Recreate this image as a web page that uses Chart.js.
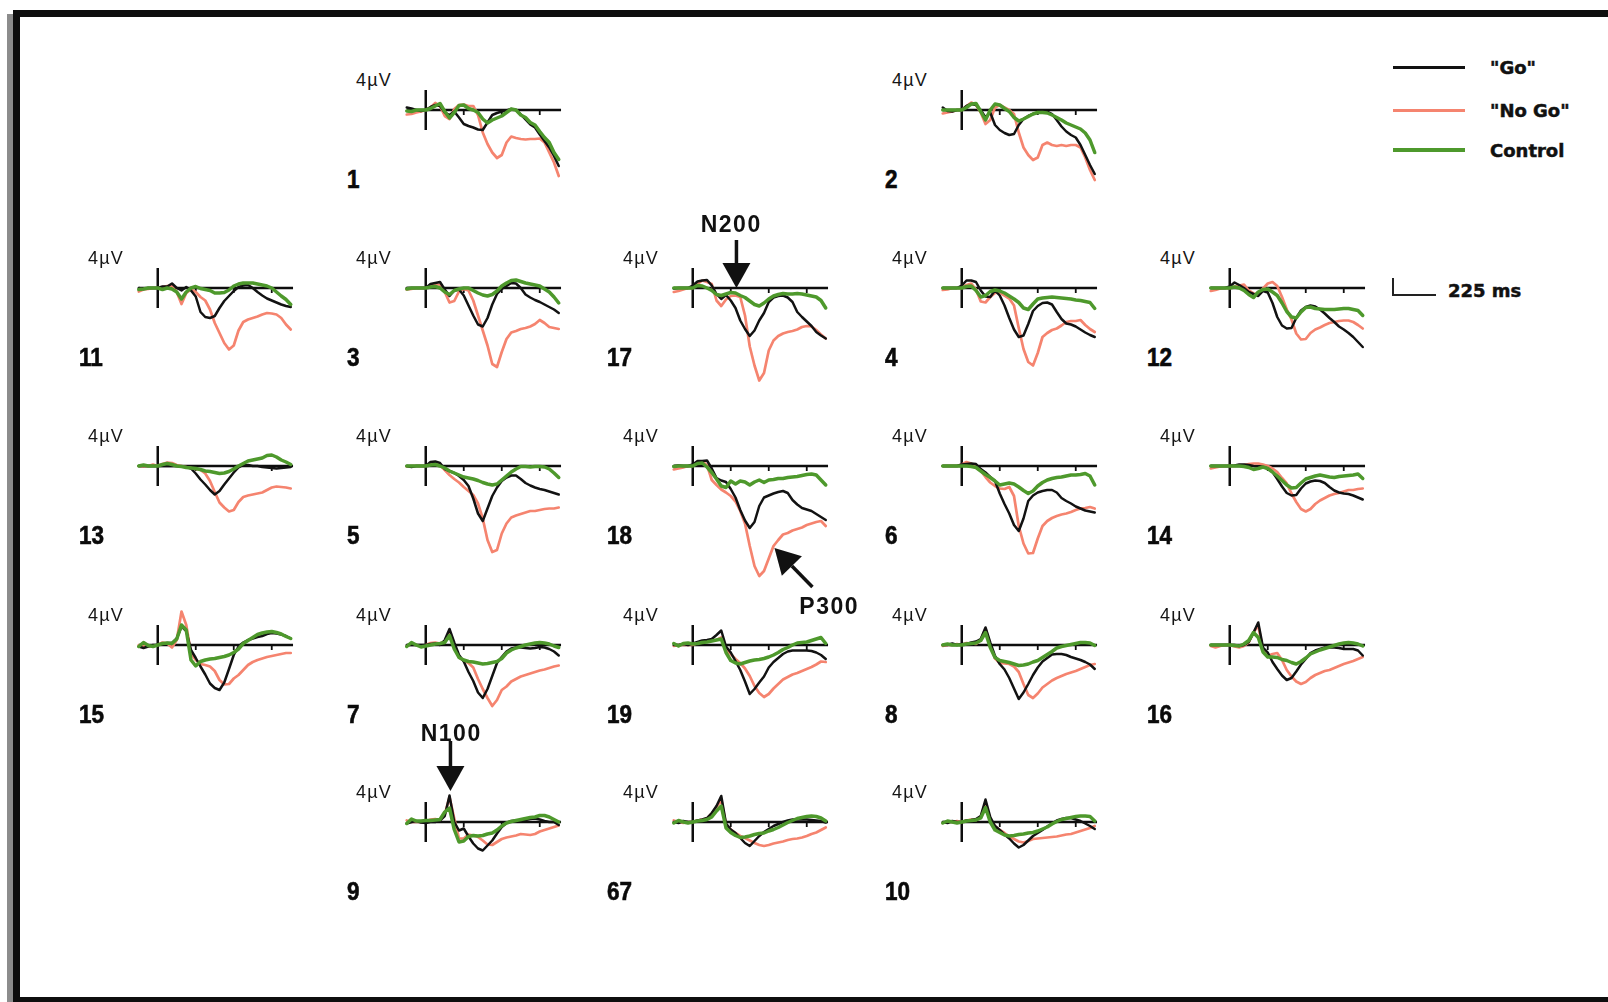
<!DOCTYPE html>
<html>
<head>
<meta charset="utf-8">
<title>ERP waveforms – Go / No Go / Control</title>
<script src="https://cdn.jsdelivr.net/npm/chart.js@4.4.1/dist/chart.umd.min.js"></script>
<style>
  html, body { margin: 0; padding: 0; background: #fff; }
  #page { position: relative; width: 1608px; height: 1002px; overflow: hidden; background: #fff; }
  .frame { position: absolute; background: #0e0e0e; }
  .frame-shade { position: absolute; left: 7px; top: 14px; width: 6px; bottom: 0; background: #8c8c8c; }
  canvas.erp { position: absolute; }
  .uv { position: absolute; font: 18px "Liberation Sans", Arial, sans-serif; letter-spacing: 1.2px;
        line-height: 18px; color: #151515; white-space: nowrap; transform: translate(-100%, -50%); }
  .num { position: absolute; font: bold 25px "Liberation Sans", Arial, sans-serif; line-height: 25px;
         color: #0a0a0a; white-space: nowrap; transform: translateY(-50%) scaleX(0.9); transform-origin: left center;
         -webkit-text-stroke: 0.6px #0a0a0a; }
  .comp { position: absolute; font: bold 23px "Liberation Sans", Arial, sans-serif; letter-spacing: 1.5px;
          line-height: 23px; color: #111; white-space: nowrap; transform: translate(-50%, -50%); }
  .leg-line { position: absolute; }
  .leg-text { position: absolute; font: bold 18px "DejaVu Sans", sans-serif; line-height: 18px;
              color: #111; white-space: nowrap; transform: translateY(-50%); -webkit-text-stroke: 0.5px #111; }
  .scalebar { position: absolute; border-left: 2px solid #222; border-bottom: 2px solid #222; box-sizing: border-box; }
</style>
</head>
<body>
<div id="page">
  <div class="frame-shade"></div>
  <div class="frame" style="left:13px; top:10px; width:7px; bottom:0;"></div>
  <div class="frame" style="left:13px; top:10px; right:0; height:7px;"></div>
  <div class="frame" style="left:13px; bottom:0; right:0; height:5px;"></div>
</div>
<script>
// ---- time base (ms after stimulus) ----
const timeMs = [-100,-75,-50,-25,0,25,50,75,100,125,150,175,200,225,250,275,300,325,350,375,400,425,450,475,500,525,550,575,600,625,650,675,700];
const seriesNames = ['"Go"', '"No Go"', 'Control'];
const axisTicksMs = [200, 400, 600];
const axisSpanMs = [-100, 712];
const calibrationUv = 4;
const calibrationMs = 225;

// ---- grand-average amplitudes (µV, positive plotted downward) ----
const go1   = [-0.5,-0.3,0,0.2,0,-0.6,-1.0,-0.8,0.5,1.0,0.3,1.5,2.8,3.2,3.5,3.9,4.0,2.5,1.0,0.6,0.3,0.1,-0.2,0,0.9,1.9,2.9,3.5,4.9,6.2,7.5,9.2,11.2];
const nogo1 = [0.9,0.8,0.5,0.3,0,-0.5,-1.4,-0.8,1.2,1.8,-0.2,-1.0,-1.1,-0.8,-0.8,1.0,4.5,6.8,8.5,9.6,9.0,6.5,5.3,5.6,5.8,5.9,5.8,5.8,5.7,6.5,8.5,10.5,13.2];
const ctl1  = [0.2,0.3,0,0,0,-0.3,-0.8,-1.3,0.3,1.6,0.5,-0.9,-1.0,-0.3,0,0.5,1.8,2.6,2.0,1.6,1.2,0.5,-0.2,0,1.0,1.5,2.5,3.0,4.3,5.5,6.5,8.5,9.9];

const go2   = [-0.5,0.2,0.3,0,0,-0.8,-1.2,-1.0,0,1.5,0.5,3.0,4.0,4.6,5.0,4.8,3.0,1.8,1.2,0.8,0.5,0.2,0.3,0.8,2.0,3.3,4.3,5.0,5.5,7.0,9.0,11.0,12.8];
const nogo2 = [0.7,0.5,0.3,0,0,-0.8,-1.5,-1.0,0.5,2.8,2.0,-0.5,-1.0,-0.5,0,0.8,4.5,7.5,9.0,10.0,9.5,7.0,6.5,7.0,7.2,7.0,7.2,7.0,7.0,7.5,9.5,12.0,14.0];
const ctl2  = [0,0,0,0,0,-0.5,-1.2,-1.3,0.3,2.0,0,-1.2,-1.0,-0.3,0.3,1.5,2.2,1.8,1.3,0.8,0.5,0.5,0.6,1.0,1.5,2.0,2.6,3.0,3.4,3.8,4.6,6.0,8.5];

const go11   = [0,0.2,0,0,0,-0.3,-0.3,-0.9,0,0.5,-0.2,0.5,1.7,4.8,5.8,6.0,5.6,4.0,2.6,1.6,0.6,-0.2,-0.5,-0.6,0,0.8,1.5,2.1,2.5,2.9,3.3,3.6,3.8];
const nogo11 = [0.7,0.3,0.2,0,0,-0.2,-0.4,-0.5,0.8,3.2,1.0,0.3,0.8,1.8,2.5,4.3,7.0,9.0,11.0,12.3,11.5,8.5,6.8,6.3,6.0,5.7,5.3,5.0,5.1,5.3,6.0,7.3,8.3];
const ctl11  = [0.3,0.2,0,0,0,0.3,0,0.2,0.8,2.2,0.8,0,-0.3,0.1,0.3,0.5,1.0,1.0,0.9,0.4,-0.4,-0.8,-1.0,-1.0,-1.0,-0.8,-0.6,-0.4,0,0.8,1.6,2.3,3.3];

const go3   = [0,0,0,0,0,-0.8,-1.0,-1.2,0.3,1.6,0.5,0.3,1.5,3.5,5.5,7.3,7.7,6.0,3.3,1.2,0.2,-0.4,-1.0,-0.9,0,1.3,1.9,2.4,2.8,3.3,3.8,4.3,5.0];
const nogo3 = [0.3,0.2,0,0,0,-0.5,-0.7,-0.7,0.8,2.9,2.6,0.7,0.2,0.5,2.5,5.5,8.5,11.5,15.2,15.8,12.8,10.2,8.9,8.6,8.2,8.0,7.7,7.2,6.4,7.0,7.8,8.0,8.2];
const ctl3  = [0.2,0,0,0,0,-0.2,-0.3,0,0.8,1.3,0.5,0.2,0,0,0.5,1.0,1.4,1.6,1.3,0.6,-0.4,-1.0,-1.5,-1.6,-1.3,-1.0,-0.8,-0.6,-0.4,0.2,0.8,1.8,3.0];

const go17   = [0.1,0,0,0,-0.5,-1.3,-1.5,-1.6,-0.5,1.2,2.2,1.4,2.5,4.0,6.5,8.2,9.6,8.5,6.5,5.0,2.8,1.9,1.6,1.5,1.9,2.8,4.8,5.8,6.7,7.6,8.8,9.5,10.1];
const nogo17 = [0.8,0.6,0.3,0,0,-0.8,-1.5,-1.2,-0.8,2.5,3.6,2.3,1.6,1.5,1.8,5.5,11.7,15.5,18.5,17.0,12.5,10.5,9.6,9.1,8.8,8.6,8.3,7.8,7.6,7.7,8.4,9.3,10.1];
const ctl17  = [0,0,0,0,0,-0.5,-0.4,0,0.5,1.3,1.5,1.2,0.9,1.0,1.5,1.9,2.6,3.3,3.6,3.0,2.2,1.6,1.3,1.1,1.2,1.2,1.1,1.2,1.4,1.6,1.8,2.5,4.0];

const go4   = [0,0,0,0,-0.5,-1.5,-1.5,-1.2,0.5,1.7,1.8,0.5,1.5,3.5,6.0,8.3,9.8,9.5,7.2,4.6,3.6,3.0,2.9,3.3,4.8,6.2,7.1,7.3,7.7,8.3,8.9,9.4,9.8];
const nogo4 = [0.4,0.3,0,0,0,-0.6,-0.9,0.3,2.7,2.9,1.8,1.0,0.9,1.5,2.1,3.5,8.0,12.2,14.8,15.5,13.0,9.8,9.0,8.4,8.1,7.5,6.8,6.6,6.6,6.4,7.4,8.2,8.8];
const ctl4  = [0,0,0,0,0,-0.3,-0.4,0.5,1.8,1.5,0.7,0.4,0.6,1.0,1.6,2.2,2.9,4.0,4.3,3.2,2.2,2.0,1.9,1.8,1.9,2.0,2.1,2.2,2.4,2.5,2.7,2.9,4.1];

const go12   = [0,0,0,0,-0.3,-1.1,-0.6,0,0.8,1.2,1.6,0.6,0.9,3.0,5.8,7.5,8.1,8.0,6.0,4.5,3.8,3.5,3.7,4.3,5.1,6.0,6.8,7.7,8.3,9.0,9.8,10.8,11.8];
const nogo12 = [0.6,0.4,0.1,0,0,-0.3,-0.5,-0.7,0.5,1.1,1.3,0.1,-0.9,-1.2,-0.4,1.8,4.3,6.3,9.1,10.3,10.2,9.0,8.3,7.9,7.4,7.0,6.8,6.6,6.5,6.5,6.8,7.4,8.1];
const ctl12  = [0,0,0,0,0,-0.2,0,0.5,1.3,1.9,0.8,0.3,0.2,0.8,1.5,3.0,4.7,5.8,6.0,4.8,3.9,3.8,4.1,4.2,4.3,4.3,4.3,4.2,4.1,4.1,4.3,4.5,5.5];

const go13   = [0,0,0,0,0,0,0,0,0,0.1,0.2,0.5,1.5,2.7,3.7,4.8,5.7,5.0,3.7,2.5,1.3,0.3,-0.2,-0.2,0,0,0.2,0.3,0.4,0.5,0.4,0.3,0.2];
const nogo13 = [0,0.1,0,-0.3,0,-0.4,-0.7,-0.6,-0.2,0,0.2,0.4,0.6,0.8,1.5,3.0,5.2,7.3,8.3,9.1,8.8,7.2,6.2,5.9,5.7,5.5,5.3,4.8,4.3,4.1,4.2,4.3,4.5];
const ctl13  = [0,-0.2,0,0,0,-0.3,-0.5,-0.3,0,0.1,0.3,0.4,0.5,0.7,1.0,1.1,1.3,1.5,1.4,1.1,0.6,0,-0.5,-1.0,-1.2,-1.4,-1.6,-2.1,-2.2,-1.8,-1.2,-0.8,-0.3];

const go5   = [0,0.2,0,0,0,-0.8,-0.9,-0.6,0.6,1.0,1.4,2.0,2.8,4.0,6.5,9.5,11.0,8.5,6.0,4.3,3.0,2.3,1.9,1.9,2.6,3.4,3.9,4.3,4.6,4.8,5.1,5.4,5.7];
const nogo5 = [0.1,0,0,0,0,-0.4,-0.5,-0.2,0.8,1.8,2.6,3.3,4.2,5.0,5.8,7.5,10.5,14.8,17.2,16.8,13.5,11.5,10.3,9.9,9.6,9.3,9.0,9.0,8.8,8.6,8.5,8.5,8.3];
const ctl5  = [0,0,0,0,0,-0.2,-0.3,0,0.4,1.0,1.4,1.8,2.2,2.4,2.6,2.9,3.3,3.6,3.8,3.6,2.8,2.0,1.2,0.6,0.1,0.1,0.2,0.1,0.1,0.2,0.6,1.4,2.3];

const go18   = [0,-0.1,0,0,-0.3,-1.0,-1.0,-1.1,0.5,2.4,2.9,3.2,4.6,6.3,8.8,10.9,12.4,11.2,8.0,6.3,5.9,5.5,5.2,5.0,5.4,6.8,7.7,8.4,8.7,9.0,9.6,10.2,10.8];
const nogo18 = [0.7,0.5,0.3,0,0,-0.8,-0.9,-0.2,2.8,3.8,4.7,5.3,6.0,7.1,9.0,11.5,16.0,20.0,22.0,21.0,18.5,16.0,14.8,13.7,13.4,12.9,12.6,12.3,11.8,11.5,11.2,11.0,12.0];
const ctl18  = [0.1,0,0,0,0,-0.5,-0.6,0.2,1.3,2.6,4.0,4.3,3.0,3.6,3.0,3.2,3.8,3.2,2.8,3.3,2.8,2.7,2.5,2.5,2.3,2.2,2.1,1.9,1.7,1.6,1.8,2.8,3.8];

const go6   = [0,0,0,0,-0.3,-0.4,-0.5,-0.4,0.6,1.3,2.2,3.0,5.5,7.6,9.5,11.8,13.0,10.5,7.0,5.9,5.3,5.0,4.8,4.8,5.3,6.4,7.0,7.5,8.1,8.5,8.9,9.1,9.3];
const nogo6 = [0,0,0,0,-0.3,-0.8,-0.5,0.3,1.0,2.2,3.3,4.0,4.5,4.6,4.2,6.0,12.0,15.5,17.5,17.4,14.5,12.0,11.0,10.4,10.0,9.7,9.5,9.2,8.8,8.5,8.4,8.2,8.5];
const ctl6  = [0,0,0,0,0,0,0.1,0.3,1.0,1.7,2.3,3.0,3.8,3.6,3.4,3.6,4.2,4.9,5.5,5.0,4.0,3.3,2.8,2.5,2.3,2.2,2.0,1.8,1.8,1.7,1.5,2.0,3.8];

const go14   = [0,0,0,0,0,-0.1,-0.3,-0.3,-0.2,0,0.1,0.2,0.5,1.2,2.6,4.1,5.4,5.9,5.8,4.5,3.5,3.1,2.9,3.0,3.4,4.2,4.9,5.3,5.5,5.6,5.9,6.3,6.7];
const nogo14 = [0.5,0.3,0.1,0,0,0,-0.1,-0.2,-0.4,-0.5,-0.5,-0.3,0,0.5,1.2,2.4,3.5,5.5,7.2,8.6,9.1,8.6,7.6,6.9,6.4,5.9,5.6,5.4,5.1,4.8,4.8,4.6,4.5];
const ctl14  = [0,0,0,0,0,0,0,0.1,0.3,0.7,0.5,0.2,0.5,1.2,2.0,2.9,3.8,4.4,4.3,3.4,2.6,2.3,2.0,1.8,2.0,2.2,2.3,2.1,2.0,1.9,1.8,1.6,2.5];

const go15   = [0.3,0.6,0.3,0,0,-0.2,-0.4,-0.4,-1.3,-3.7,-2.8,1.0,2.6,4.3,5.9,7.7,8.6,9.0,7.5,4.8,2.0,0.3,-0.5,-1.0,-1.3,-1.6,-1.8,-2.2,-2.4,-2.3,-2.1,-1.8,-1.3];
const nogo15 = [0,0.2,0.3,0.2,0,-0.5,-0.3,0.5,-1.0,-6.7,-4.0,1.7,3.0,3.8,4.0,4.3,5.2,7.0,7.9,7.8,6.7,6.0,5.0,4.0,3.4,3.0,2.7,2.4,2.2,2.0,1.8,1.6,1.6];
const ctl15  = [0.3,-0.5,0.1,0.3,0,-0.3,-0.4,-0.3,-1.2,-4.0,-3.0,3.0,4.2,3.3,3.0,2.8,2.7,2.5,2.3,2.0,1.5,0.8,-0.3,-0.9,-1.5,-2.1,-2.4,-2.6,-2.7,-2.5,-2.2,-1.7,-1.3];

const go7   = [0,0,0,0,0,-0.2,-0.3,0,-1.0,-3.2,-0.5,2.0,3.3,5.4,7.2,9.5,10.6,8.8,6.2,3.6,2.4,1.3,0.7,0.5,0.5,0.6,0.7,0.6,0.4,0.5,0.8,1.3,2.1];
const nogo7 = [0.2,-0.2,0,0.1,0,-0.4,-0.5,-0.3,-0.7,-2.2,0.5,2.5,3.1,3.6,4.5,6.8,8.8,10.6,12.2,11.0,9.0,8.3,7.3,6.8,6.3,6.0,5.7,5.4,5.1,4.9,4.6,4.3,4.1];
const ctl7  = [0.3,-0.5,0,0.4,0.2,0,-0.2,-0.3,-0.5,-1.9,0.8,2.5,3.0,3.3,3.4,3.6,3.8,3.7,3.5,3.3,2.7,1.6,1.0,0.6,0.3,0,-0.2,-0.4,-0.5,-0.4,-0.2,0.2,0.5];

const go19   = [0,0,-0.2,0,-0.3,-0.6,-0.9,-1.0,-1.2,-2.0,-2.9,0.3,1.5,3.2,5.0,7.3,9.8,8.8,7.5,6.3,4.5,3.4,2.6,1.8,1.3,1.1,1.1,1.1,1.1,1.2,1.5,2.0,2.8];
const nogo19 = [0.2,0,0,0,0,-0.4,-0.6,-0.7,-0.9,-1.0,-1.5,1.0,1.8,2.8,3.6,4.7,6.2,8.2,9.6,10.4,9.8,8.7,7.8,6.9,6.4,5.9,5.6,5.2,4.8,4.4,3.9,3.3,3.4];
const ctl19  = [-0.3,0.2,-0.3,-0.4,-0.2,-0.3,-0.5,-0.6,-0.8,-1.0,-1.2,1.5,3.1,3.6,3.8,3.5,3.2,3.0,2.9,2.7,2.4,2.0,1.5,0.9,0.5,0,-0.4,-0.5,-0.6,-0.9,-1.2,-1.5,-0.3];

const go8   = [0,0,-0.3,0,-0.2,-0.2,-0.5,-0.7,-1.2,-3.5,-0.5,2.2,3.8,4.9,6.6,8.7,10.8,9.5,7.8,6.0,4.5,3.3,2.6,1.9,1.8,1.8,2.0,2.4,2.7,3.0,3.4,3.9,4.8];
const nogo8 = [0.2,0,0,-0.2,0,-0.4,-0.3,-0.2,-1.0,-3.2,0,2.7,3.6,3.7,3.8,4.3,5.4,7.8,10.0,10.6,9.7,8.5,7.8,7.1,6.6,6.2,5.8,5.5,5.2,4.8,4.4,4.0,3.8];
const ctl8  = [0,-0.2,0,0,0,-0.2,-0.3,-0.4,-0.9,-2.5,0.5,2.5,3.1,3.3,3.5,3.8,4.1,4.0,3.8,3.4,3.1,2.5,1.9,1.3,0.6,0.3,0.1,-0.1,-0.3,-0.5,-0.5,-0.4,0.1];

const go16   = [0,0,0,0,0,0,0.2,0,-0.6,-2.5,-4.5,0.5,1.5,3.4,4.8,6.1,7.0,6.6,5.3,3.9,2.8,1.6,1.1,0.8,0.5,0.5,0.5,0.6,0.8,0.8,0.8,1.1,2.1];
const nogo16 = [0.2,0.5,0.2,0,0,0.3,0.5,0.2,-0.5,-2.5,-3.9,1.0,2.2,1.8,1.6,3.0,5.0,6.3,7.3,7.8,7.4,6.6,6.0,5.6,5.2,5.0,4.6,4.2,3.8,3.5,3.2,2.8,2.4];
const ctl16  = [0,0,0,0,0,0.1,0.2,-0.2,-0.9,-2.5,-1.5,1.4,2.4,2.4,2.5,2.9,3.1,3.5,3.8,3.3,2.6,1.8,1.4,1.0,0.7,0.4,0.1,-0.2,-0.4,-0.5,-0.4,-0.2,0.2];

const go9   = [0.3,0,-0.2,0.1,0.2,0,0,-0.3,-1.2,-5.3,0,1.7,1.3,2.9,4.3,5.3,5.7,4.7,3.7,2.3,1.0,0.2,-0.2,-0.3,-0.3,-0.4,-0.6,-0.7,-0.5,-0.2,0,0,0.6];
const nogo9 = [-0.3,0,0,0,0,-0.5,-0.6,-0.4,-1.5,-5.0,-0.7,3.3,3.3,2.5,2.7,3.0,3.7,4.5,4.6,4.0,3.4,3.1,2.9,2.7,2.4,2.5,2.6,2.4,1.9,1.6,1.3,1.0,0.7];
const ctl9  = [0.3,-0.6,-0.2,-0.2,-0.3,-0.3,-0.4,-0.5,-2.0,-2.8,1.5,4.0,3.8,2.9,2.7,2.8,2.7,2.4,2.2,1.6,0.8,0.2,-0.1,-0.3,-0.5,-0.7,-0.9,-1.0,-1.3,-1.3,-1.0,-0.5,0];

const go67   = [0,0.2,-0.2,0,0,-0.3,-0.5,-0.8,-1.8,-3.2,-5.2,0.3,1.5,2.2,3.2,4.2,4.8,3.8,2.8,2.0,1.4,0.8,0.4,0,-0.3,-0.5,-0.5,-0.5,-0.5,-0.4,-0.3,-0.2,0.1];
const nogo67 = [-0.3,0,0.2,0,0,-0.3,-0.5,-0.7,-1.7,-3.0,-4.5,0.5,1.5,2.2,2.8,3.2,3.7,4.2,4.6,4.8,4.6,4.3,4.1,3.9,3.6,3.4,3.3,3.1,2.8,2.4,2.1,1.6,1.1];
const ctl67  = [0.2,-0.3,0,0.2,0,-0.2,-0.3,-0.5,-1.0,-2.2,-3.2,1.2,2.1,2.7,3.1,3.0,2.8,2.5,2.3,2.2,1.8,1.5,1.1,0.6,0.1,-0.3,-0.7,-0.9,-1.1,-1.2,-1.1,-0.8,-0.2];

const go10   = [0,0.2,-0.2,0,0,-0.3,-0.4,-0.6,-1.2,-4.5,-1.0,0.8,1.6,2.5,3.3,4.3,5.1,4.6,3.7,2.8,2.2,1.6,0.9,0.3,-0.3,-0.6,-0.8,-0.8,-0.5,-0.2,0.3,0.8,1.4];
const nogo10 = [0.2,0,0,-0.2,0,-0.3,-0.5,-0.4,-1.0,-3.9,-0.5,0.8,1.6,2.2,2.9,3.4,3.9,4.1,3.8,3.4,3.3,3.2,3.1,3.0,2.9,2.7,2.5,2.4,2.1,1.8,1.5,1.2,0.8];
const ctl10  = [0.2,-0.2,0,0.2,0,-0.2,-0.3,-0.4,-0.8,-2.9,0,1.6,2.1,2.6,2.8,2.7,2.5,2.4,2.2,2.1,1.8,1.4,1.0,0.4,-0.1,-0.5,-0.7,-0.9,-1.1,-1.2,-1.2,-1.1,-0.2];

// electrode -> [Go, No Go, Control]
const electrodeWaves = {
  '1': [go1, nogo1, ctl1],     '2': [go2, nogo2, ctl2],
  '11': [go11, nogo11, ctl11], '3': [go3, nogo3, ctl3],   '17': [go17, nogo17, ctl17],
  '4': [go4, nogo4, ctl4],     '12': [go12, nogo12, ctl12],
  '13': [go13, nogo13, ctl13], '5': [go5, nogo5, ctl5],   '18': [go18, nogo18, ctl18],
  '6': [go6, nogo6, ctl6],     '14': [go14, nogo14, ctl14],
  '15': [go15, nogo15, ctl15], '7': [go7, nogo7, ctl7],   '19': [go19, nogo19, ctl19],
  '8': [go8, nogo8, ctl8],     '16': [go16, nogo16, ctl16],
  '9': [go9, nogo9, ctl9],     '67': [go67, nogo67, ctl67], '10': [go10, nogo10, ctl10]
};

// labelled components (latency ms, amplitude µV)
const componentNames = ['N200', 'P300', 'N100'];
const componentSites = ['17', '18', '9'];
const componentLatencyMs = [230, 430, 130];
const componentAmplitudeUv = [0, 16.4, -6.2];

// ---- layout ----
const COL_X = [158, 426, 693, 962, 1230];    // stimulus-onset x per column
const ROW_Y = [110, 288, 466, 645, 822];     // zero-line y per row
const NUM_X = [79, 347, 607, 885, 1147];     // electrode number left edge per column
const gridSlot = {
  '1': [0,1], '2': [0,3],
  '11': [1,0], '3': [1,1], '17': [1,2], '4': [1,3], '12': [1,4],
  '13': [2,0], '5': [2,1], '18': [2,2], '6': [2,3], '14': [2,4],
  '15': [3,0], '7': [3,1], '19': [3,2], '8': [3,3], '16': [3,4],
  '9': [4,1], '67': [4,2], '10': [4,3]
};
// arrow tail offset (dx, dy) and label offset (lx, ly) from the arrow tip, px
const arrowGeom = {
  'N200': { dx: 0, dy: -48, lx: -6, ly: -64 },
  'P300': { dx: 38, dy: 39, lx: 54, ly: 58 },
  'N100': { dx: 0, dy: -50, lx: 0, ly: -58 }
};

const PX_PER_MS = 0.19, PX_PER_UV = 5;
const X_MIN = -125, X_MAX = 775;
const Y_MIN = -18, Y_MAX = 26;
const CW = Math.round((X_MAX - X_MIN) * PX_PER_MS);
const CH = Math.round((Y_MAX - Y_MIN) * PX_PER_UV);

const lineColors = ['#121212', '#f5846f', '#4e992c'];
const lineWidths = [2.5, 2.7, 3.5];
const drawOrder  = [2, 3, 1];

const page = document.getElementById('page');

// zero line, calibration bar and latency ticks
const erpAxes = {
  id: 'erpAxes',
  beforeDatasetsDraw(chart) {
    const { ctx } = chart;
    const x = chart.scales.x, y = chart.scales.y;
    const y0 = y.getPixelForValue(0), x0 = x.getPixelForValue(0);
    ctx.save();
    ctx.strokeStyle = '#0d0d0d';
    ctx.lineWidth = 2.5;
    ctx.beginPath();
    ctx.moveTo(x.getPixelForValue(axisSpanMs[0]), y0);
    ctx.lineTo(x.getPixelForValue(axisSpanMs[1]), y0);
    ctx.moveTo(x0, y.getPixelForValue(-calibrationUv));
    ctx.lineTo(x0, y.getPixelForValue(calibrationUv));
    ctx.stroke();
    ctx.lineWidth = 1.8;
    ctx.beginPath();
    axisTicksMs.forEach(t => {
      const xp = x.getPixelForValue(t);
      ctx.moveTo(xp, y0);
      ctx.lineTo(xp, y.getPixelForValue(1));
    });
    ctx.stroke();
    ctx.restore();
  }
};

// arrows pointing at labelled components
const erpArrows = {
  id: 'erpArrows',
  afterDatasetsDraw(chart, args, opts) {
    const items = (opts && opts.items) || [];
    if (!items.length) return;
    const { ctx } = chart;
    const x = chart.scales.x, y = chart.scales.y;
    ctx.save();
    ctx.strokeStyle = '#111';
    ctx.fillStyle = '#111';
    items.forEach(a => {
      const tx = x.getPixelForValue(a.ms), ty = y.getPixelForValue(a.uv);
      const sx = tx + a.dx, sy = ty + a.dy;
      const ang = Math.atan2(ty - sy, tx - sx);
      const headLen = 25, headW = 28;
      const bx = tx - headLen * Math.cos(ang), by = ty - headLen * Math.sin(ang);
      ctx.lineWidth = 3.5;
      ctx.beginPath();
      ctx.moveTo(sx, sy);
      ctx.lineTo(bx, by);
      ctx.stroke();
      ctx.beginPath();
      ctx.moveTo(tx, ty);
      ctx.lineTo(bx + headW / 2 * Math.sin(ang), by - headW / 2 * Math.cos(ang));
      ctx.lineTo(bx - headW / 2 * Math.sin(ang), by + headW / 2 * Math.cos(ang));
      ctx.closePath();
      ctx.fill();
    });
    ctx.restore();
  }
};

function addDiv(cls, text, left, top) {
  const d = document.createElement('div');
  d.className = cls;
  d.textContent = text;
  d.style.left = left + 'px';
  d.style.top = top + 'px';
  page.appendChild(d);
  return d;
}

const charts = {};

Object.keys(gridSlot).forEach(site => {
  const [r, c] = gridSlot[site];
  const ox = COL_X[c], oy = ROW_Y[r];
  const left = Math.round(ox + X_MIN * PX_PER_MS);
  const top = Math.round(oy + Y_MIN * PX_PER_UV);

  const canvas = document.createElement('canvas');
  canvas.className = 'erp';
  canvas.width = CW; canvas.height = CH;
  canvas.style.width = CW + 'px'; canvas.style.height = CH + 'px';
  canvas.style.left = left + 'px'; canvas.style.top = top + 'px';
  page.appendChild(canvas);

  const waves = electrodeWaves[site];
  const datasets = waves.map((vals, k) => ({
    label: seriesNames[k],
    data: timeMs.map((t, i) => ({ x: t, y: vals[i] })),
    borderColor: lineColors[k],
    borderWidth: lineWidths[k],
    pointRadius: 0,
    tension: 0,
    fill: false,
    clip: false,
    order: drawOrder[k],
    borderJoinStyle: 'round',
    borderCapStyle: 'round'
  }));

  const arrows = [];
  componentNames.forEach((name, j) => {
    if (componentSites[j] === site) {
      const g = arrowGeom[name];
      arrows.push({ name, ms: componentLatencyMs[j], uv: componentAmplitudeUv[j], dx: g.dx, dy: g.dy, lx: g.lx, ly: g.ly });
    }
  });

  const chart = new Chart(canvas, {
    type: 'line',
    data: { datasets },
    options: {
      responsive: false,
      maintainAspectRatio: false,
      animation: false,
      devicePixelRatio: 1,
      events: [],
      layout: { padding: 0 },
      scales: {
        x: { type: 'linear', min: X_MIN, max: X_MAX, display: false },
        y: { type: 'linear', min: Y_MIN, max: Y_MAX, reverse: true, display: false }
      },
      plugins: {
        legend: { display: false },
        tooltip: { enabled: false },
        erpArrows: { items: arrows }
      }
    },
    plugins: [erpAxes, erpArrows]
  });
  charts[site] = chart;

  // calibration label and electrode number
  addDiv('uv', calibrationUv + 'µV', ox - 34, oy - 30);
  addDiv('num', site, NUM_X[c], oy + 69);

  // component labels, placed from the arrow tips on the chart scales
  arrows.forEach(a => {
    const tipX = left + chart.scales.x.getPixelForValue(a.ms);
    const tipY = top + chart.scales.y.getPixelForValue(a.uv);
    addDiv('comp', a.name, tipX + a.lx + 0.75, tipY + a.ly);
  });
});

// ---- legend ----
const legendY = [67, 110, 150];
const legendLineH = [3, 3, 4];
seriesNames.forEach((name, k) => {
  const ln = document.createElement('div');
  ln.className = 'leg-line';
  ln.style.left = '1393px';
  ln.style.width = '72px';
  ln.style.height = legendLineH[k] + 'px';
  ln.style.top = (legendY[k] - legendLineH[k] / 2) + 'px';
  ln.style.background = lineColors[k];
  page.appendChild(ln);
  addDiv('leg-text', name, 1490, legendY[k] + 1);
});

// time-scale bar, length taken from a panel's time axis
const refX = charts['12'].scales.x;
const barLen = refX.getPixelForValue(calibrationMs) - refX.getPixelForValue(0);
const bar = document.createElement('div');
bar.className = 'scalebar';
bar.style.left = '1392px';
bar.style.top = '278px';
bar.style.width = (barLen + 1) + 'px';
bar.style.height = '18px';
page.appendChild(bar);
addDiv('leg-text', calibrationMs + ' ms', 1448, 291);
</script>
</body>
</html>
